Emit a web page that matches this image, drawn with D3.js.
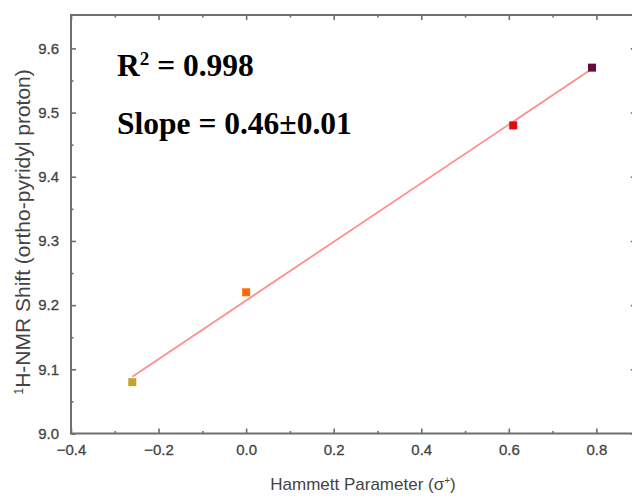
<!DOCTYPE html>
<html>
<head>
<meta charset="utf-8">
<script src="https://cdn.jsdelivr.net/npm/d3@7"></script>
<style>
  html, body { margin: 0; padding: 0; background: #fff; }
  svg { display: block; }
</style>
</head>
<body>
<svg id="chart" width="632" height="496"></svg>
<script>
// ---- data ----
const sigmaValues = [-0.26, 0.00, 0.61, 0.79];
const shiftValues = [9.08, 9.22, 9.48, 9.57];
const pointColors = ["#c2a331", "#ff6a0a", "#e50a0a", "#6a0a3a"];
const xTickValues = [-0.4, -0.2, 0.0, 0.2, 0.4, 0.6, 0.8];
const xMinorValues = [-0.3, -0.1, 0.1, 0.3, 0.5, 0.7];
const yTickValues = [9.0, 9.1, 9.2, 9.3, 9.4, 9.5, 9.6];
const yMinorValues = [9.05, 9.15, 9.25, 9.35, 9.45, 9.55];
const annotationLines = ["R", "Slope = 0.46\u00b10.01"];

const svg = d3.select("#chart");

const x = d3.scaleLinear().domain([-0.4, 0.89]).range([71, 635.8]);
const y = d3.scaleLinear().domain([9.0, 9.652]).range([433.5, 15]);

const axisColor = "#6e6e6e";
const labelColor = "#444";

const x0 = x.range()[0], x1 = x.range()[1];
const yb = y.range()[0], yt = y.range()[1];

function styleAxis(g) {
  g.select(".domain").remove();
  g.selectAll(".tick line").attr("stroke", axisColor).attr("stroke-width", 1.6);
  g.selectAll(".tick text").attr("fill", labelColor)
    .style("font-family", "Liberation Sans, Arial, sans-serif").style("font-size", "15px")
    .attr("stroke", labelColor).attr("stroke-width", 0.3);
}

// bottom axis
svg.append("g").attr("transform", `translate(0,${yb})`)
  .call(d3.axisBottom(x).tickValues(xTickValues).tickSize(-5).tickPadding(11).tickFormat(d3.format(".1f")))
  .call(styleAxis);
svg.append("g").attr("transform", `translate(0,${yb})`)
  .call(d3.axisBottom(x).tickValues(xMinorValues).tickSize(-2.5).tickFormat(""))
  .call(styleAxis);
// top axis
svg.append("g").attr("transform", `translate(0,${yt})`)
  .call(d3.axisTop(x).tickValues(xTickValues).tickSize(-5).tickFormat(""))
  .call(styleAxis);
svg.append("g").attr("transform", `translate(0,${yt})`)
  .call(d3.axisTop(x).tickValues(xMinorValues).tickSize(-2.5).tickFormat(""))
  .call(styleAxis);
// left axis
svg.append("g").attr("transform", `translate(${x0},0)`)
  .call(d3.axisLeft(y).tickValues(yTickValues).tickSize(-5).tickPadding(12).tickFormat(d3.format(".1f")))
  .call(styleAxis);
svg.append("g").attr("transform", `translate(${x0},0)`)
  .call(d3.axisLeft(y).tickValues(yMinorValues).tickSize(-2.5).tickFormat(""))
  .call(styleAxis);
// right axis
svg.append("g").attr("transform", `translate(${x1},0)`)
  .call(d3.axisRight(y).tickValues(yTickValues).tickSize(-5).tickFormat(""))
  .call(styleAxis);
svg.append("g").attr("transform", `translate(${x1},0)`)
  .call(d3.axisRight(y).tickValues(yMinorValues).tickSize(-2.5).tickFormat(""))
  .call(styleAxis);

svg.append("rect").attr("x", x0).attr("y", yt).attr("width", x1 - x0).attr("height", yb - yt)
  .attr("fill", "none").attr("stroke", axisColor).attr("stroke-width", 2);

// axis titles
const xTitle = svg.append("text")
  .attr("x", 363).attr("y", 490)
  .attr("text-anchor", "middle")
  .attr("fill", labelColor)
  .style("font-family", "Liberation Sans, Arial, sans-serif").style("font-size", "17px");
xTitle.append("tspan").text("Hammett Parameter (\u03c3");
xTitle.append("tspan").attr("dy", -6).style("font-size", "10px").text("+");
xTitle.append("tspan").attr("dy", 6).text(")");

const yTitle = svg.append("text")
  .attr("transform", `translate(30,232) rotate(-90)`)
  .attr("text-anchor", "middle")
  .attr("fill", labelColor)
  .style("font-family", "Liberation Sans, Arial, sans-serif").style("font-size", "21px");
yTitle.append("tspan").attr("dy", -7).style("font-size", "12.5px").text("1");
yTitle.append("tspan").attr("dy", 7).text("H-NMR Shift (ortho-pyridyl proton)");

// regression line from data
const n = sigmaValues.length;
const mx = d3.mean(sigmaValues), my = d3.mean(shiftValues);
let sxy = 0, sxx = 0;
for (let i = 0; i < n; i++) {
  sxy += (sigmaValues[i] - mx) * (shiftValues[i] - my);
  sxx += (sigmaValues[i] - mx) ** 2;
}
const slope = sxy / sxx, intercept = my - slope * mx;
const xExt = d3.extent(sigmaValues);
svg.append("line")
  .attr("x1", x(xExt[0])).attr("y1", y(intercept + slope * xExt[0]))
  .attr("x2", x(xExt[1])).attr("y2", y(intercept + slope * xExt[1]))
  .attr("stroke", "#ff8f8f").attr("stroke-width", 1.8);

// points
const s = 8;
svg.selectAll("rect.pt").data(sigmaValues).enter().append("rect")
  .attr("class", "pt")
  .attr("x", (d) => x(d) - s / 2)
  .attr("y", (d, i) => y(shiftValues[i]) - s / 2)
  .attr("width", s).attr("height", s)
  .attr("fill", (d, i) => pointColors[i]);

// annotation
const ann = svg.append("g").style("font-family", "Liberation Serif, Times New Roman, serif")
  .style("font-weight", "bold").attr("fill", "#000");
const t1 = ann.append("text").attr("x", 117).attr("y", 76).style("font-size", "31.5px");
t1.append("tspan").text(annotationLines[0]);
t1.append("tspan").attr("dy", -11).style("font-size", "19px").text("2");
t1.append("tspan").attr("dy", 11).text(" = 0.998");
ann.append("text").attr("x", 117).attr("y", 134).style("font-size", "31.5px").text(annotationLines[1]);
</script>
</body>
</html>
